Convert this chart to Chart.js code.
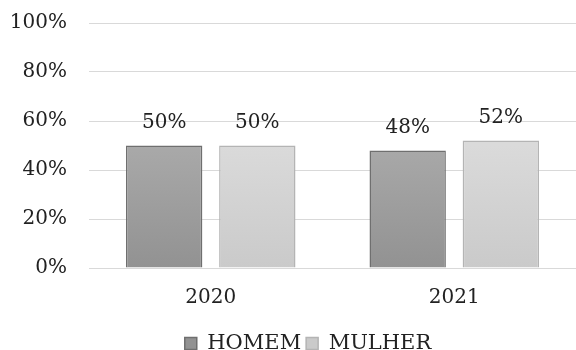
<!DOCTYPE html>
<html>
<head>
<meta charset="utf-8">
<script src="https://cdn.jsdelivr.net/npm/chart.js@4"></script>
<style>
  html, body { margin: 0; padding: 0; background: #fff; }
  #wrap { width: 576px; height: 350px; }
</style>
</head>
<body>
<div id="wrap"><canvas id="barChart"></canvas></div>
<script>
const categories = ["2020", "2021"];
const homem = [0.50, 0.48];
const mulher = [0.50, 0.52];
const yTicks = [0, 0.2, 0.4, 0.6, 0.8, 1.0];

const FONT = "'DejaVu Serif', serif";

function fillGradient(top, bottom) {
  return function (c) {
    const chart = c.chart;
    if (!chart.chartArea) return bottom;
    const y = chart.scales.y;
    const g = chart.ctx.createLinearGradient(0, y.getPixelForValue(0.5), 0, y.getPixelForValue(0));
    g.addColorStop(0, top);
    g.addColorStop(1, bottom);
    return g;
  };
}

// percent labels above each bar
const valueLabels = {
  id: "valueLabels",
  afterLayout(chart) {
    // legend sits a bit right of the canvas centre in the original
    chart.legend.left += 30;
  },
  afterDatasetsDraw(chart) {
    const ctx = chart.ctx;
    ctx.save();
    ctx.font = "20px " + FONT;
    ctx.fillStyle = "#222";
    ctx.textAlign = "center";
    ctx.textBaseline = "middle";
    chart.data.datasets.forEach((ds, i) => {
      chart.getDatasetMeta(i).data.forEach((bar, j) => {
        ctx.fillText(Math.round(ds.data[j] * 100) + "%", bar.x, bar.y - 23);
      });
    });
    ctx.restore();
  },
};

const ctx = document.getElementById("barChart");
new Chart(ctx, {
  type: "bar",
  data: {
    labels: categories,
    datasets: [
      {
        label: "HOMEM",
        data: homem,
        backgroundColor: fillGradient("#a9a9a9", "#929292"),
        borderColor: "#6f6f6f",
        borderWidth: 1.5,
        barPercentage: 0.82,
        categoryPercentage: 0.765,
      },
      {
        label: "MULHER",
        data: mulher,
        backgroundColor: fillGradient("#dadada", "#cacaca"),
        borderColor: "#b4b4b4",
        borderWidth: 1.5,
        barPercentage: 0.82,
        categoryPercentage: 0.765,
      },
    ],
  },
  options: {
    responsive: true,
    maintainAspectRatio: false,
    animation: false,
    layout: {
      padding: { top: 23, left: 10, right: 0, bottom: -14 },
    },
    plugins: {
      tooltip: { enabled: false },
      legend: {
        position: "bottom",
        labels: {
          font: { family: FONT, size: 21, lineHeight: 1 },
          color: "#222",
          boxWidth: 12,
          boxHeight: 12,
          padding: 5,
        },
      },
    },
    scales: {
      x: {
        grid: { display: false, drawTicks: false },
        border: { display: false },
        ticks: {
          font: { family: FONT, size: 20, lineHeight: 1 },
          color: "#222",
          padding: 20,
        },
      },
      y: {
        min: 0,
        max: 1,
        afterBuildTicks(axis) {
          axis.ticks = yTicks.map((v) => ({ value: v }));
        },
        afterFit(axis) {
          axis.width = 79;
          axis.paddingTop = 0;
          axis.paddingBottom = 0;
        },
        grid: { color: "#d9d9d9", lineWidth: 1, drawTicks: false },
        border: { display: false },
        ticks: {
          font: { family: FONT, size: 20 },
          color: "#222",
          padding: 22,
          callback: (v) => Math.round(v * 100) + "%",
        },
      },
    },
  },
  plugins: [valueLabels],
});
</script>
</body>
</html>
